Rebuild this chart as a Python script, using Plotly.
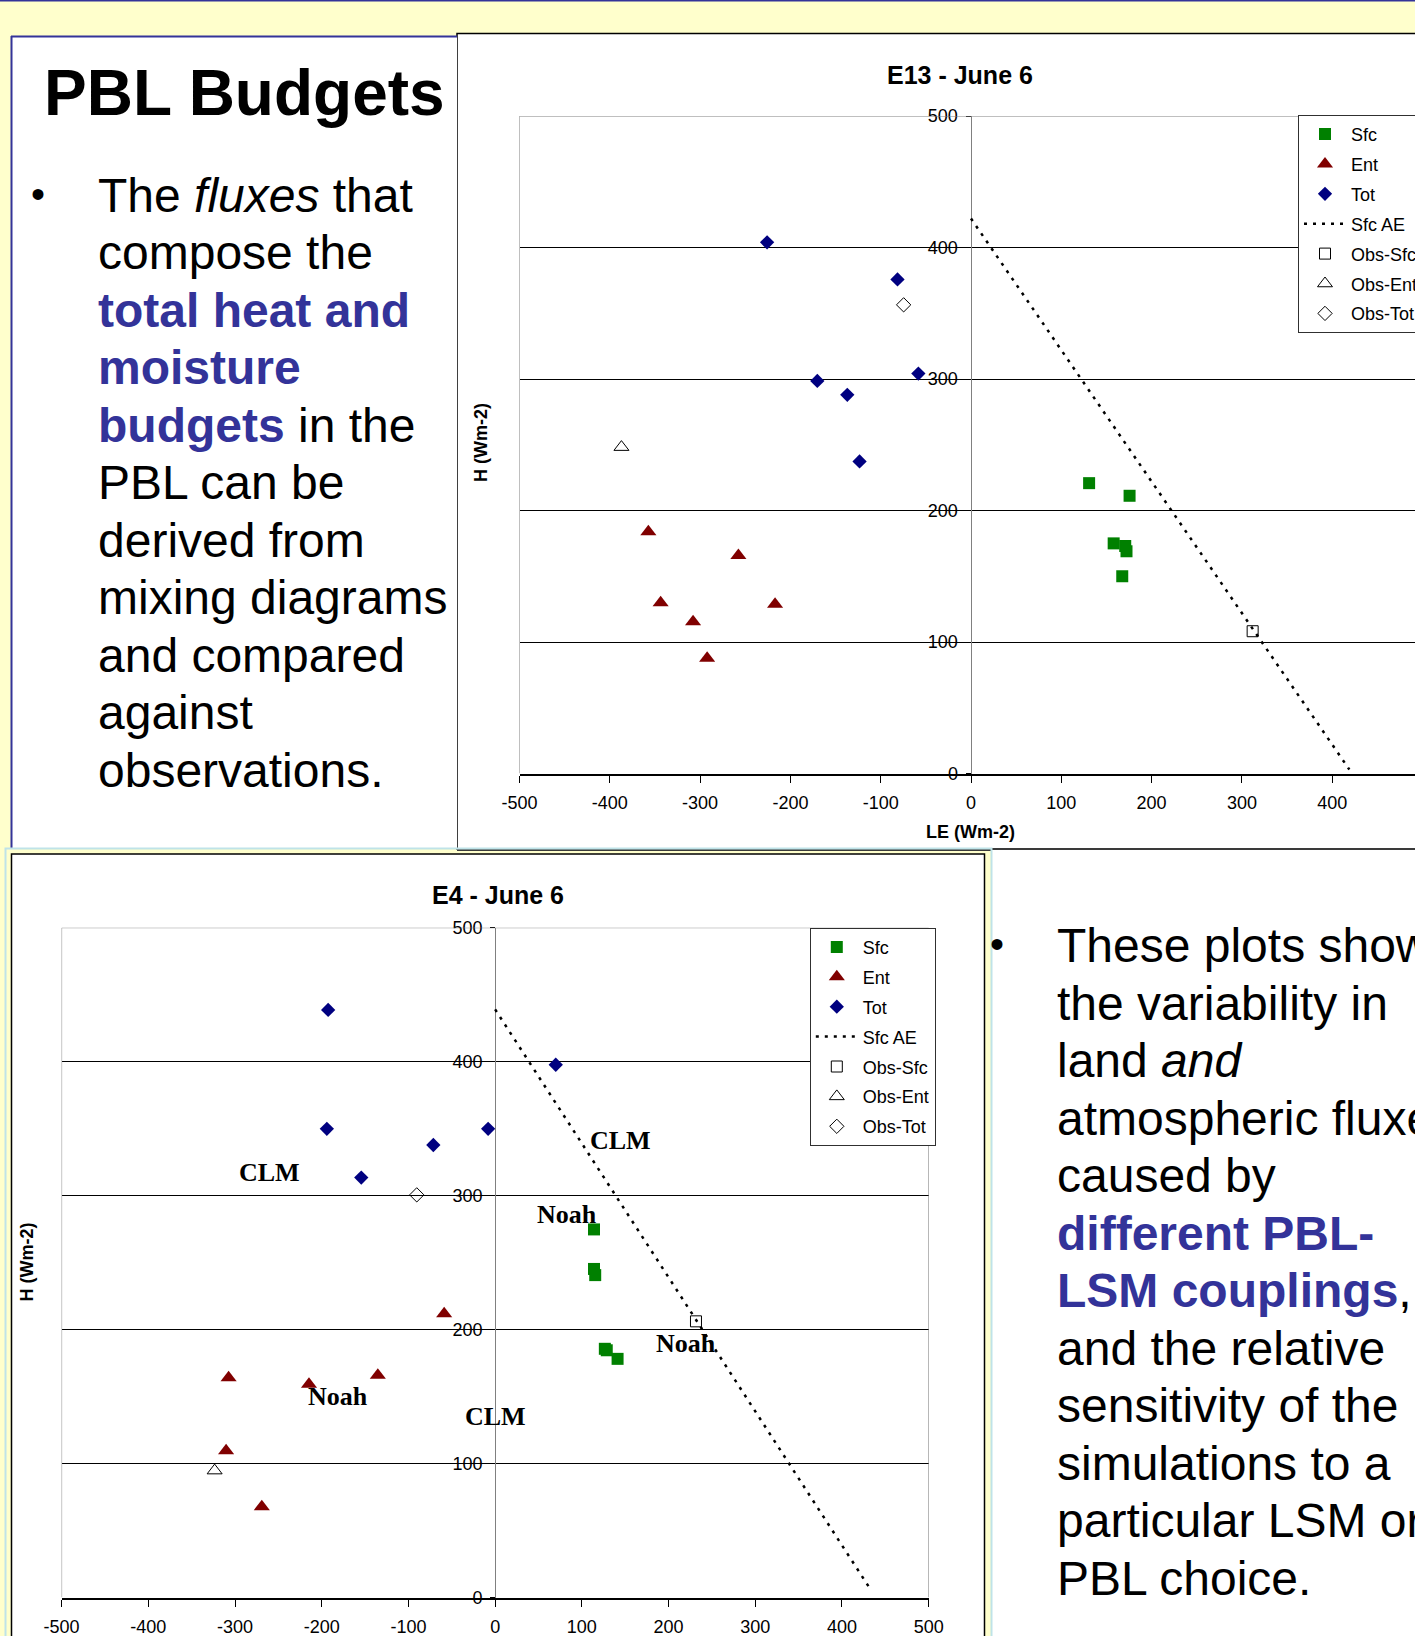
import plotly.graph_objects as go

W, H = 1415, 1636

# ---------------- data: E13 - June 6 (top chart) ----------------
e13_sfc_le = [130.8, 175.6, 158.0, 170.8, 172.2, 167.5]
e13_sfc_h = [220.8, 211.2, 175.0, 173.0, 169.0, 150.0]
e13_ent_le = [-357.3, -257.6, -343.7, -307.8, -217.0, -292.2]
e13_ent_h = [183.8, 165.7, 129.9, 115.4, 128.7, 87.7]
e13_tot_le = [-225.8, -81.4, -170.2, -137.0, -58.3, -123.4]
e13_tot_h = [403.9, 375.7, 298.5, 288.0, 304.1, 237.3]
e13_ae_le = [0, 419]
e13_ae_h = [422, 3]
e13_obs_sfc_le, e13_obs_sfc_h = [311.9], [108.2]
e13_obs_ent_le, e13_obs_ent_h = [-387.1], [248.2]
e13_obs_tot_le, e13_obs_tot_h = [-74.6], [356.4]

# ---------------- data: E4 - June 6 (bottom chart) ----------------
e4_sfc_le = [114.0, 114.0, 115.4, 126.5, 128.7, 141.2]
e4_sfc_h = [274.8, 245.3, 240.7, 185.7, 184.6, 178.2]
e4_ent_le = [-58.8, -307.4, -135.3, -214.7, -310.3, -269.1]
e4_ent_h = [211.9, 164.1, 166.0, 159.2, 109.6, 67.9]
e4_tot_le = [-192.6, -194.1, 69.9, -8.1, -71.3, -154.4]
e4_tot_h = [438.6, 349.9, 397.7, 349.9, 337.8, 313.5]
e4_ae_le = [0, 434]
e4_ae_h = [439, 5]
e4_obs_sfc_le, e4_obs_sfc_h = [231.6], [206.2]
e4_obs_ent_le, e4_obs_ent_h = [-323.5], [94.8]
e4_obs_tot_le, e4_obs_tot_h = [-90.4], [300.6]

e4_labels = ["CLM", "CLM", "Noah", "Noah", "Noah", "CLM"]
e4_label_le = [-260, 144, 83, 220, -181, 0]
e4_label_h = [317, 341, 286, 190, 150, 135]

x_ticks = [-500, -400, -300, -200, -100, 0, 100, 200, 300, 400, 500]
x_tick_labels = ["-500", "-400", "-300", "-200", "-100", "0", "100", "200", "300", "400", "500"]
y_ticks = [0, 100, 200, 300, 400, 500]
y_tick_labels = ["0", "100", "200", "300", "400", "500"]

series_names = ["Sfc", "Ent", "Tot", "Sfc AE", "Obs-Sfc", "Obs-Ent", "Obs-Tot"]

BLUE = "#333399"
left_lines = [
    "The <i>fluxes</i> that",
    "compose the",
    f"<b><span style='color:{BLUE}'>total heat and</span></b>",
    f"<b><span style='color:{BLUE}'>moisture</span></b>",
    f"<b><span style='color:{BLUE}'>budgets</span></b> in the",
    "PBL can be",
    "derived from",
    "mixing diagrams",
    "and compared",
    "against",
    "observations.",
]
right_lines = [
    "These plots show",
    "the variability in",
    "land <i>and</i>",
    "atmospheric fluxes",
    "caused by",
    f"<b><span style='color:{BLUE}'>different PBL-</span></b>",
    f"<b><span style='color:{BLUE}'>LSM couplings</span></b>,",
    "and the relative",
    "sensitivity of the",
    "simulations to a",
    "particular LSM or",
    "PBL choice.",
]

# ---------------- styling ----------------
NARROW = "Liberation Sans Narrow, Arial Narrow, Liberation Sans, Arial, sans-serif"
SANS = "Liberation Sans, Arial, Helvetica, sans-serif"
SERIF = "Liberation Serif, Times New Roman, serif"
C_SFC, C_ENT, C_TOT = "#008000", "#800000", "#000080"


def fx(px):
    return px / W


def fy(py):
    return 1 - py / H


fig = go.Figure()


def add_chart(xa, ya, legend, sfc, ent, tot, ae, osfc, oent, otot):
    def common(i):
        return dict(xaxis=xa, yaxis=ya, legend=legend, hoverinfo="skip",
                    legendgroup=f"{legend}_{i}")
    fig.add_trace(go.Scatter(x=sfc[0], y=sfc[1], mode="markers", name=series_names[0],
                             marker=dict(symbol="square", size=12, color=C_SFC), **common(0)))
    fig.add_trace(go.Scatter(x=ent[0], y=ent[1], mode="markers", name=series_names[1],
                             marker=dict(symbol="triangle-up", size=14, color=C_ENT), **common(1)))
    fig.add_trace(go.Scatter(x=tot[0], y=tot[1], mode="markers", name=series_names[2],
                             marker=dict(symbol="diamond", size=11, color=C_TOT), **common(2)))
    fig.add_trace(go.Scatter(x=ae[0], y=ae[1], mode="lines", name=series_names[3],
                             line=dict(color="black", width=2.5, dash="3px,6px"), **common(3)))
    fig.add_trace(go.Scatter(x=osfc[0], y=osfc[1], mode="markers", name=series_names[4],
                             marker=dict(symbol="square-open", size=11, color="black",
                                         line=dict(width=1)), **common(4)))
    fig.add_trace(go.Scatter(x=oent[0], y=oent[1], mode="markers", name=series_names[5],
                             marker=dict(symbol="triangle-up-open", size=13, color="black",
                                         line=dict(width=1)), **common(5)))
    fig.add_trace(go.Scatter(x=otot[0], y=otot[1], mode="markers", name=series_names[6],
                             marker=dict(symbol="diamond-open", size=11, color="black",
                                         line=dict(width=1)), **common(6)))


add_chart("x", "y", "legend",
          (e13_sfc_le, e13_sfc_h), (e13_ent_le, e13_ent_h), (e13_tot_le, e13_tot_h),
          (e13_ae_le, e13_ae_h), (e13_obs_sfc_le, e13_obs_sfc_h),
          (e13_obs_ent_le, e13_obs_ent_h), (e13_obs_tot_le, e13_obs_tot_h))
add_chart("x2", "y2", "legend2",
          (e4_sfc_le, e4_sfc_h), (e4_ent_le, e4_ent_h), (e4_tot_le, e4_tot_h),
          (e4_ae_le, e4_ae_h), (e4_obs_sfc_le, e4_obs_sfc_h),
          (e4_obs_ent_le, e4_obs_ent_h), (e4_obs_tot_le, e4_obs_tot_h))

tickfont = dict(family=NARROW, size=18, color="black")


def xaxis_cfg(domain, rng, anchor):
    return dict(domain=domain, range=rng, anchor=anchor, tickvals=x_ticks,
                ticktext=x_tick_labels,
                showgrid=False, zeroline=True, zerolinecolor="#808080", zerolinewidth=1,
                showline=True, linecolor="black", linewidth=2, ticks="outside",
                ticklen=7, tickcolor="black", tickwidth=1, tickfont=tickfont,
                ticklabelstandoff=5, fixedrange=True)


def yaxis_cfg(domain, pos):
    return dict(domain=domain, range=[0, 500], anchor="free", position=pos,
                tickvals=y_ticks, ticktext=y_tick_labels,
                showgrid=True, gridcolor="black", gridwidth=1,
                zeroline=False, showline=False, ticks="outside", ticklen=5,
                tickcolor="black", tickwidth=1, tickfont=tickfont,
                ticklabelstandoff=4, fixedrange=True)


# top chart geometry (pixels)
t_x_m500, t_x_0, t_px_per = 519.5, 970.5, 0.903
t_y_500, t_y_0 = 116.0, 773.5
# bottom chart geometry
b_x_m500, b_x_500 = 61.6, 928.7
b_y_500, b_y_0 = 927.7, 1597.6

xa1 = xaxis_cfg([fx(t_x_m500), 1.0], [-500, -500 + (W - t_x_m500) / t_px_per], "y")
ya1 = yaxis_cfg([fy(t_y_0), fy(t_y_500)], fx(t_x_0))
xa2 = xaxis_cfg([fx(b_x_m500), fx(b_x_500)], [-500, 500], "y2")
ya2 = yaxis_cfg([fy(b_y_0), fy(b_y_500)], fx((b_x_m500 + b_x_500) / 2))

shapes = []


def prect(x0, y0, x1, y1, fill=None, color=None, width=0):
    shapes.append(dict(type="rect", xref="paper", yref="paper",
                       x0=fx(x0), x1=fx(x1), y0=fy(y0), y1=fy(y1),
                       fillcolor=fill if fill else "rgba(0,0,0,0)",
                       line=dict(color=color if color else "rgba(0,0,0,0)", width=width),
                       layer="below"))


def pline(x0, y0, x1, y1, color, width):
    shapes.append(dict(type="line", xref="paper", yref="paper",
                       x0=fx(x0), x1=fx(x1), y0=fy(y0), y1=fy(y1),
                       line=dict(color=color, width=width), layer="below"))


# slide decorations
pline(0, 0.8, W, 0.8, BLUE, 1.6)
prect(457, 33.5, 1430, 849, fill="white", color="black", width=1.5)
pline(457, 849.5, W, 849.5, "#3a3a3a", 3)
prect(11, 36.5, 457, 848, fill="white")
pline(11.5, 36, 11.5, 848, BLUE, 2)
pline(11, 36.5, 457, 36.5, BLUE, 2)
prect(992, 850, 1430, 1645, fill="white")
prect(5.5, 848.5, 991.5, 1650, fill=None, color="#BFE3E8", width=2)
prect(11.5, 854, 984.5, 1650, fill="white", color="black", width=1.5)

# plot-area frames (grey) in data coordinates
for xr, yr in (("x", "y"), ("x2", "y2")):
    for (x0, y0, x1, y1) in ((-500, 0, -500, 500), (-500, 500, 500, 500), (500, 0, 500, 500)):
        shapes.append(dict(type="line", xref=xr, yref=yr, x0=x0, y0=y0, x1=x1, y1=y1,
                           line=dict(color="#808080", width=1), layer="above"))

annotations = []


def ptext(text, x, y, size, family=SANS, xanchor="left", yanchor="middle",
          color="black", angle=0):
    annotations.append(dict(text=text, x=fx(x), y=fy(y), xref="paper", yref="paper",
                            xanchor=xanchor, yanchor=yanchor, showarrow=False,
                            font=dict(family=family, size=size, color=color),
                            textangle=angle, borderpad=0))


# left text block
ptext("<b>PBL Budgets</b>", 43, 92.8, 64)
ptext("•", 29.5, 194, 40)
for i, ln in enumerate(left_lines):
    ptext(ln, 97, 195.4 + 57.5 * i, 48)

# right text block
ptext("•", 988.5, 944, 40)
for i, ln in enumerate(right_lines):
    ptext(ln, 1056, 945.5 + 57.5 * i, 48)

# chart titles / axis titles
ptext("<b>E13 - June 6</b>", 960, 75, 25, family=NARROW, xanchor="center")
ptext("<b>H (Wm-2)</b>", 481, 443, 18, family=SANS, xanchor="center", angle=-90)
ptext("<b>LE (Wm-2)</b>", 970.5, 832, 18, family=NARROW, xanchor="center")
ptext("<b>E4 - June 6</b>", 498, 895, 25, family=NARROW, xanchor="center")
ptext("<b>H (Wm-2)</b>", 27, 1262.6, 18, family=SANS, xanchor="center", angle=-90)
ptext("<b>LE (Wm-2)</b>", 494.6, 1656, 18, family=NARROW, xanchor="center")

# in-plot labels (bottom chart)
for t, lx, ly in zip(e4_labels, e4_label_le, e4_label_h):
    annotations.append(dict(text=f"<b>{t}</b>", x=lx, y=ly, xref="x2", yref="y2",
                            showarrow=False, xanchor="center", yanchor="middle",
                            font=dict(family=SERIF, size=26, color="black")))

legend_common = dict(bgcolor="white", bordercolor="#303030", borderwidth=1,
                     font=dict(family=NARROW, size=18, color="black"),
                     itemwidth=42, xanchor="left", yanchor="top", tracegroupgap=3.5,
                     traceorder="grouped")

fig.update_layout(
    width=W, height=H,
    margin=dict(l=0, r=0, t=0, b=0, pad=0, autoexpand=False),
    paper_bgcolor="#FFFFCC",
    plot_bgcolor="white",
    xaxis=xa1, yaxis=ya1, xaxis2=xa2, yaxis2=ya2,
    shapes=shapes,
    annotations=annotations,
    legend=dict(x=fx(1298), y=fy(114.8), **legend_common),
    legend2=dict(x=fx(809.8), y=fy(927.7), **legend_common),
    showlegend=True,
)

fig.write_html("out.html", config={"displayModeBar": False, "staticPlot": True})
